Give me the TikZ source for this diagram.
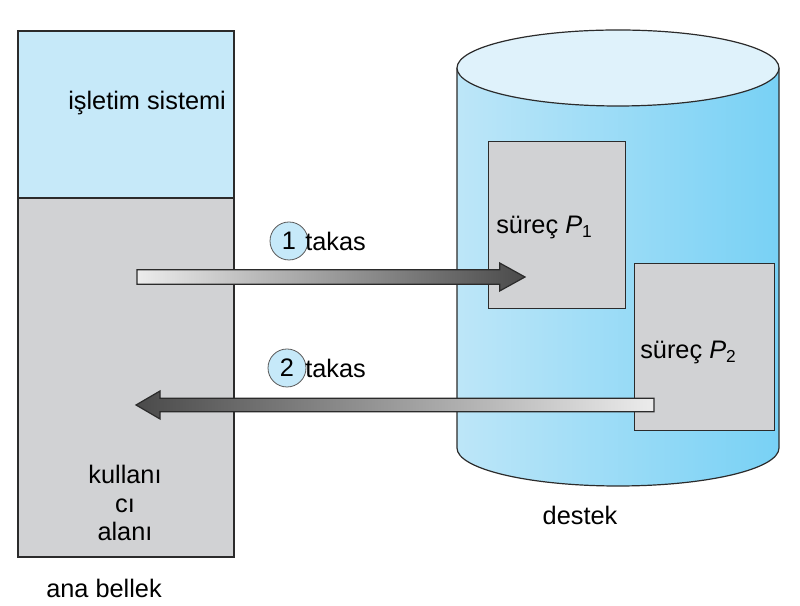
\documentclass[tikz,border=0pt]{standalone}
\usepackage{fontspec}
\setmainfont{Liberation Sans}
\definecolor{osblue}{HTML}{C6E9F9}
\definecolor{boxgray}{HTML}{D1D2D4}
\definecolor{cylL}{HTML}{BDE6F8}
\definecolor{cylM}{HTML}{E2F4FC}
\definecolor{cylR}{HTML}{78D1F5}
\definecolor{cyltop}{HTML}{DFF2FB}
\definecolor{arrdark}{HTML}{4A4A4A}
\definecolor{arrlight}{HTML}{ECECEC}
\definecolor{edge}{HTML}{2B2B2B}
\tikzset{
  lbl/.style={font=\fontsize{19}{21.4}\selectfont, inner sep=0pt},
  procbox/.style={draw=edge, line width=0.8pt, fill=boxgray, minimum width=#1},
  numcirc/.style={circle, draw=black!65, line width=0.6pt, fill=osblue, minimum size=28.5pt, inner sep=0pt, font=\fontsize{19}{21}\selectfont},
  arrbody/.style={draw=edge, line width=0.9pt},
}
\newcommand{\subn}[1]{\raisebox{-0.35ex}{\fontsize{13}{13}\selectfont #1}}
\begin{document}
\begin{tikzpicture}[x=0.75pt,y=0.75pt]
\useasboundingbox (0,0) rectangle (800,606);
% main memory
\fill[osblue] (18,408) rectangle (234,575);
\fill[boxgray] (18,49) rectangle (234,408);
\draw[edge, line width=0.9pt] (18,49) rectangle (234,575);
\draw[edge, line width=0.9pt] (18,408) -- (234,408);
\node[lbl, anchor=west] (os) at (68,503) {işletim sistemi};
\node[lbl, align=center] (user) at (125,103) {kullanı\\cı\\alanı};
\node[lbl] (mem) at (104,18) {ana bellek};
% cylinder
\shade[left color=cylL, middle color=cylM, right color=cylR]
  (457,538) -- (457,158) arc[start angle=180, end angle=360, x radius=161, y radius=38] -- (779,538) -- cycle;
\draw[edge, line width=0.9pt] (457,538) -- (457,158) arc[start angle=180, end angle=360, x radius=161, y radius=38] -- (779,538);
\draw[edge, line width=0.9pt, fill=cyltop] (618,538) ellipse[x radius=161, y radius=38];
\node[lbl] (destek) at (580,91) {destek};
% process boxes
\node[procbox=102.75pt, minimum height=125.25pt, anchor=north west, inner sep=0pt] (p1) at (488,465) {};
\node[procbox=105pt, minimum height=125.25pt, anchor=north west, inner sep=0pt] (p2) at (634,343) {};
\node[lbl, anchor=west] (p1l) at (496,379) {süreç \textit{P}\subn{1}};
\node[lbl, anchor=west] (p2l) at (640,254) {süreç \textit{P}\subn{2}};
% arrow 1 (swap out)
\coordinate (a1s) at (137,329);
\coordinate (a1e) at (525,329);
\shade[left color=arrlight, right color=arrdark]
  ([yshift=-5.5]a1s) -- ([xshift=-19,yshift=-5.5]a1e) -- ([xshift=-19,yshift=-10.5]a1e) -- (a1e)
  -- ([xshift=-19,yshift=10.5]a1e) -- ([xshift=-19,yshift=5.5]a1e) -- ([yshift=5.5]a1s) -- cycle;
\draw[arrbody]
  ([yshift=-5.5]a1s) -- ([xshift=-19,yshift=-5.5]a1e) -- ([xshift=-19,yshift=-10.5]a1e) -- (a1e)
  -- ([xshift=-19,yshift=10.5]a1e) -- ([xshift=-19,yshift=5.5]a1e) -- ([yshift=5.5]a1s) -- cycle;
% arrow 2 (swap in)
\coordinate (a2s) at (654,201);
\coordinate (a2e) at (136,201);
\shade[left color=arrdark, right color=arrlight]
  ([yshift=-5]a2s) -- ([xshift=18,yshift=-5]a2e) -- ([xshift=18,yshift=-10.5]a2e) -- (a2e)
  -- ([xshift=18,yshift=10.5]a2e) -- ([xshift=18,yshift=5]a2e) -- ([yshift=5]a2s) -- cycle;
\draw[arrbody]
  ([yshift=-5]a2s) -- ([xshift=18,yshift=-5]a2e) -- ([xshift=18,yshift=-10.5]a2e) -- (a2e)
  -- ([xshift=18,yshift=10.5]a2e) -- ([xshift=18,yshift=5]a2e) -- ([yshift=5]a2s) -- cycle;
% step labels
\node[numcirc] (c1) at (289,365) {1};
\node[lbl, anchor=west] (t1) at (305,365) {takas};
\node[numcirc] (c2) at (287,238) {2};
\node[lbl, anchor=west] (t2) at (305,238) {takas};
\end{tikzpicture}
\end{document}
